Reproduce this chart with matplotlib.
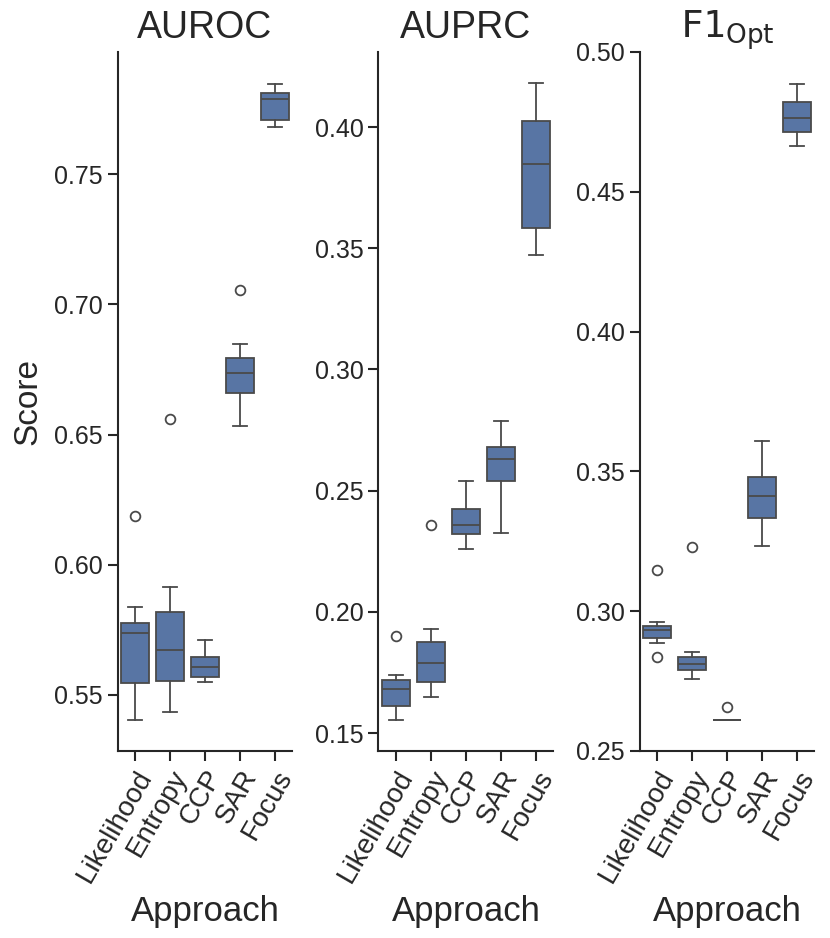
import matplotlib
matplotlib.use("Agg")
import matplotlib.pyplot as plt

plt.rcParams['font.family'] = ['Liberation Sans', 'DejaVu Sans']

approaches = ["Likelihood", "Entropy", "CCP", "SAR", "Focus"]
metrics = ["AUROC", "AUPRC", r"$\mathtt{F1}_{\mathrm{Opt}}$"]

# summary statistics per metric, per approach (whisker low, q1, median, q3, whisker high)
auroc_whislo = [0.5404, 0.5435, 0.5550, 0.6532, 0.7683]
auroc_q1     = [0.5546, 0.5554, 0.5569, 0.6659, 0.7710]
auroc_med    = [0.5738, 0.5673, 0.5607, 0.6736, 0.7791]
auroc_q3     = [0.5776, 0.5818, 0.5646, 0.6793, 0.7814]
auroc_whishi = [0.5838, 0.5914, 0.5711, 0.6847, 0.7848]
auroc_fliers = [[0.6187], [0.6559], [], [0.7054], []]

auprc_whislo = [0.1554, 0.1649, 0.2259, 0.2325, 0.3472]
auprc_q1     = [0.1611, 0.1710, 0.2321, 0.2540, 0.3583]
auprc_med    = [0.1682, 0.1789, 0.2358, 0.2630, 0.3848]
auprc_q3     = [0.1719, 0.1875, 0.2424, 0.2680, 0.4025]
auprc_whishi = [0.1739, 0.1929, 0.2540, 0.2787, 0.4182]
auprc_fliers = [[0.1900], [0.2358], [], [], []]

f1_whislo = [0.2886, 0.2757, 0.2611, 0.3232, 0.4664]
f1_q1     = [0.2904, 0.2789, 0.2611, 0.3332, 0.4714]
f1_med    = [0.2932, 0.2811, 0.2611, 0.3411, 0.4764]
f1_q3     = [0.2946, 0.2836, 0.2611, 0.3479, 0.4821]
f1_whishi = [0.2961, 0.2854, 0.2611, 0.3607, 0.4886]
f1_fliers = [[0.3146, 0.2836], [0.3229], [0.2657], [], []]

ylims = [(0.5285, 0.797), (0.1426, 0.431), (0.25, 0.50)]
yticks = [[0.55, 0.60, 0.65, 0.70, 0.75],
          [0.15, 0.20, 0.25, 0.30, 0.35, 0.40],
          [0.25, 0.30, 0.35, 0.40, 0.45, 0.50]]

data = [
    (auroc_whislo, auroc_q1, auroc_med, auroc_q3, auroc_whishi, auroc_fliers),
    (auprc_whislo, auprc_q1, auprc_med, auprc_q3, auprc_whishi, auprc_fliers),
    (f1_whislo, f1_q1, f1_med, f1_q3, f1_whishi, f1_fliers),
]

fill = "#5875a4"
line = "#4a4a4a"
lw = 1.3

fig = plt.figure(figsize=(8.3, 9.38), dpi=100)
lefts = [0.1416, 0.4560, 0.7705]
w = 0.2108
bottom = 0.1994
h = 0.7452

for i, (wl, q1, med, q3, wh, fl) in enumerate(data):
    ax = fig.add_axes([lefts[i], bottom, w, h])
    stats = []
    for j in range(len(approaches)):
        stats.append(dict(med=med[j], q1=q1[j], q3=q3[j], whislo=wl[j],
                          whishi=wh[j], fliers=fl[j], label=approaches[j]))
    ax.bxp(stats, positions=range(len(approaches)), widths=0.8,
           patch_artist=True, showfliers=True,
           boxprops=dict(facecolor=fill, edgecolor=line, linewidth=lw),
           medianprops=dict(color=line, linewidth=lw),
           whiskerprops=dict(color=line, linewidth=lw),
           capprops=dict(color=line, linewidth=lw),
           capwidths=0.4,
           flierprops=dict(marker='o', markerfacecolor='none',
                           markeredgecolor=line, markersize=7,
                           markeredgewidth=1.3))
    ax.set_xlim(-0.5, 4.5)
    ax.set_ylim(*ylims[i])
    ax.set_yticks(yticks[i])
    ax.set_yticklabels([f"{t:.2f}" for t in yticks[i]])
    ax.set_xticks(range(len(approaches)))
    ax.set_xticklabels(approaches, rotation=60, ha='right',
                       rotation_mode='anchor')
    for s in ['top', 'right']:
        ax.spines[s].set_visible(False)
    for s in ['left', 'bottom']:
        ax.spines[s].set_linewidth(1.5)
        ax.spines[s].set_color('#262626')
    ax.tick_params(axis='both', length=7, width=1.5,
                   color='#262626', labelcolor='#262626', direction='out')
    ax.tick_params(axis='y', labelsize=18)
    ax.tick_params(axis='x', labelsize=20)
    ax.set_title(metrics[i], fontsize=27, color='#262626', pad=10)
    ax.set_xlabel("Approach", fontsize=25, color='#262626', labelpad=6)
    if i == 0:
        ax.set_ylabel("Score", fontsize=24, color='#262626', labelpad=8)

fig.savefig("out.png", dpi=100)
